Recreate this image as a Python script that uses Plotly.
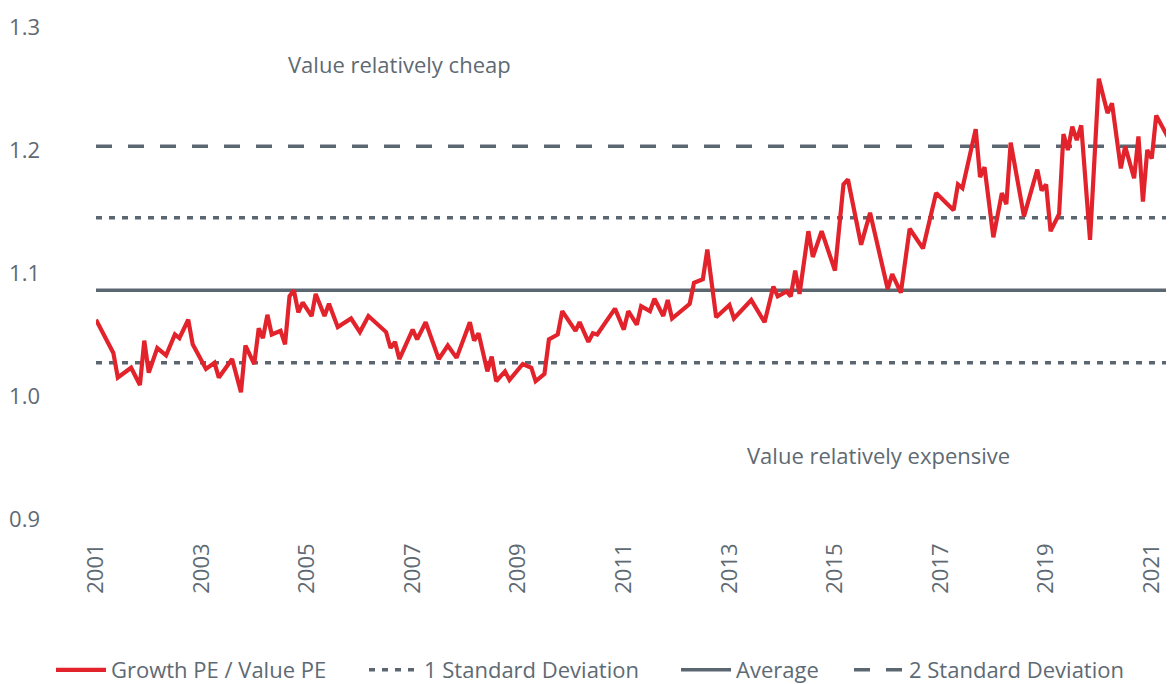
import plotly.graph_objects as go

# ---- data ----
dates = [
    "2001-01", "2001-05", "2001-06", "2001-09", "2001-11", "2001-12", "2002-01", "2002-03",
    "2002-05", "2002-07", "2002-08", "2002-10", "2002-11", "2003-02", "2003-04", "2003-05",
    "2003-08", "2003-10", "2003-11", "2004-01", "2004-02", "2004-03", "2004-04", "2004-05",
    "2004-07", "2004-08", "2004-09", "2004-10", "2004-11", "2004-12", "2005-02", "2005-03",
    "2005-05", "2005-06", "2005-08", "2005-11", "2006-01", "2006-03", "2006-07", "2006-08",
    "2006-09", "2006-10", "2007-01", "2007-02", "2007-04", "2007-07", "2007-09", "2007-11",
    "2008-02", "2008-03", "2008-04", "2008-06", "2008-07", "2008-08", "2008-10", "2008-11",
    "2009-02", "2009-04", "2009-05", "2009-07", "2009-08", "2009-10", "2009-11", "2010-02",
    "2010-03", "2010-05", "2010-06", "2010-07", "2010-11", "2011-01", "2011-02", "2011-04",
    "2011-05", "2011-07", "2011-08", "2011-10", "2011-11", "2011-12", "2012-04", "2012-05",
    "2012-07", "2012-08", "2012-10", "2013-01", "2013-02", "2013-06", "2013-09", "2013-11",
    "2013-12", "2014-02", "2014-03", "2014-04", "2014-05", "2014-07", "2014-08", "2014-10",
    "2015-01", "2015-03", "2015-04", "2015-07", "2015-09", "2016-01", "2016-02", "2016-04",
    "2016-06", "2016-09", "2016-12", "2017-04", "2017-05", "2017-06", "2017-09", "2017-10",
    "2017-11", "2018-01", "2018-03", "2018-04", "2018-05", "2018-08", "2018-11", "2018-12",
    "2019-01", "2019-02", "2019-04", "2019-05", "2019-06", "2019-07", "2019-08", "2019-09",
    "2019-11", "2020-01", "2020-03", "2020-04", "2020-06", "2020-07", "2020-09", "2020-10",
    "2020-11", "2020-12", "2021-01", "2021-02", "2021-06",
]
ratio = [
    1.062, 1.035, 1.015, 1.023, 1.009, 1.045, 1.019, 1.039,
    1.033, 1.050, 1.047, 1.062, 1.042, 1.022, 1.027, 1.015,
    1.030, 1.003, 1.041, 1.026, 1.055, 1.047, 1.066, 1.050,
    1.053, 1.042, 1.081, 1.086, 1.068, 1.076, 1.065, 1.083,
    1.065, 1.075, 1.056, 1.063, 1.052, 1.065, 1.052, 1.039,
    1.044, 1.030, 1.054, 1.046, 1.060, 1.030, 1.041, 1.031,
    1.060, 1.045, 1.051, 1.020, 1.032, 1.012, 1.020, 1.013,
    1.026, 1.023, 1.012, 1.018, 1.046, 1.050, 1.069, 1.053,
    1.060, 1.044, 1.051, 1.050, 1.071, 1.054, 1.069, 1.058,
    1.073, 1.069, 1.079, 1.065, 1.078, 1.063, 1.075, 1.092,
    1.095, 1.119, 1.064, 1.074, 1.063, 1.078, 1.060, 1.089,
    1.081, 1.085, 1.081, 1.102, 1.083, 1.134, 1.113, 1.134,
    1.102, 1.172, 1.176, 1.123, 1.149, 1.087, 1.099, 1.084,
    1.136, 1.120, 1.165, 1.151, 1.172, 1.169, 1.217, 1.178,
    1.186, 1.129, 1.165, 1.156, 1.206, 1.146, 1.184, 1.167,
    1.172, 1.134, 1.148, 1.213, 1.200, 1.219, 1.208, 1.220,
    1.127, 1.258, 1.230, 1.238, 1.185, 1.203, 1.177, 1.211,
    1.158, 1.200, 1.193, 1.228, 1.202,
]
average = 1.086
sd_upper = 1.145
sd_lower = 1.027
sd2_upper = 1.203

x_range = ["2001-01-01", "2021-06-04"]
tick_years = [2001, 2003, 2005, 2007, 2009, 2011, 2013, 2015, 2017, 2019, 2021]
y_ticks = [0.9, 1.0, 1.1, 1.2, 1.3]

RED = "#e3232b"
GREY = "#5a6771"
TEXT = "#5e6a73"
FONT = "Open Sans"
FS = 22

fig = go.Figure()

fig.add_trace(go.Scatter(
    x=x_range, y=[sd_upper, sd_upper], mode="lines", name="1 Standard Deviation",
    line=dict(color=GREY, width=3.5, dash="6px,7px"), legendgroup="sd1", legend="legend2",
))
fig.add_trace(go.Scatter(
    x=x_range, y=[sd_lower, sd_lower], mode="lines", name="1 Standard Deviation",
    line=dict(color=GREY, width=3.5, dash="6px,7px"), legendgroup="sd1", showlegend=False,
))
fig.add_trace(go.Scatter(
    x=x_range, y=[average, average], mode="lines", name="Average",
    line=dict(color=GREY, width=3.5), legend="legend3",
))
fig.add_trace(go.Scatter(
    x=x_range, y=[sd2_upper, sd2_upper], mode="lines", name="2 Standard Deviation",
    line=dict(color=GREY, width=3.5, dash="16px,16px"), legend="legend4",
))
fig.add_trace(go.Scatter(
    x=dates, y=ratio, mode="lines", name="Growth PE / Value PE",
    line=dict(color=RED, width=4.2), legend="legend",
))

fig.add_annotation(x="2006-10-01", y=1.27, text="Value relatively cheap", showarrow=False,
                   font=dict(family=FONT, size=FS, color=TEXT), xref="x", yref="y")
fig.add_annotation(x="2015-11-01", y=0.952, text="Value relatively expensive", showarrow=False,
                   font=dict(family=FONT, size=FS, color=TEXT), xref="x", yref="y")

# the page body has an 8px margin: figure is placed so the plot area lands at
# window x 96..1174, y 27..519
PAGE = 8
W, H = 1174 - PAGE, 684 - PAGE
ML, MT, MB = 96 - PAGE, 27 - PAGE, 165
PLOT_W = W - ML
PLOT_H = H - MT - MB


def leg(px):
    return dict(orientation="h", x=(px - PAGE - ML) / PLOT_W, xanchor="left",
                y=-(662 - (H - MB)) / PLOT_H, yanchor="middle", itemwidth=50,
                font=dict(family=FONT, size=FS, color=TEXT), bgcolor="rgba(0,0,0,0)")


fig.update_layout(
    width=W, height=H,
    margin=dict(l=ML, r=0, t=MT, b=MB, autoexpand=False),
    paper_bgcolor="white", plot_bgcolor="white",
    font=dict(family=FONT, size=FS, color=TEXT),
    showlegend=True,
    legend=leg(51), legend2=leg(364), legend3=leg(676), legend4=leg(849),
    xaxis=dict(type="date", range=x_range, showgrid=False, zeroline=False, showline=False,
               automargin=False,
               tickmode="array", tickvals=[f"{y}-01-01" for y in tick_years],
               ticktext=[str(y) for y in tick_years], tickangle=-90,
               ticklabelstandoff=19, tickfont=dict(family=FONT, size=FS, color=TEXT)),
    yaxis=dict(range=[0.9, 1.3], showgrid=False, zeroline=False, showline=False,
               automargin=False,
               tickmode="array", tickvals=y_ticks, ticktext=[f"{v:.1f}" for v in y_ticks],
               ticklabelstandoff=55, tickfont=dict(family=FONT, size=FS, color=TEXT)),
)

fig.write_html("out.html")
